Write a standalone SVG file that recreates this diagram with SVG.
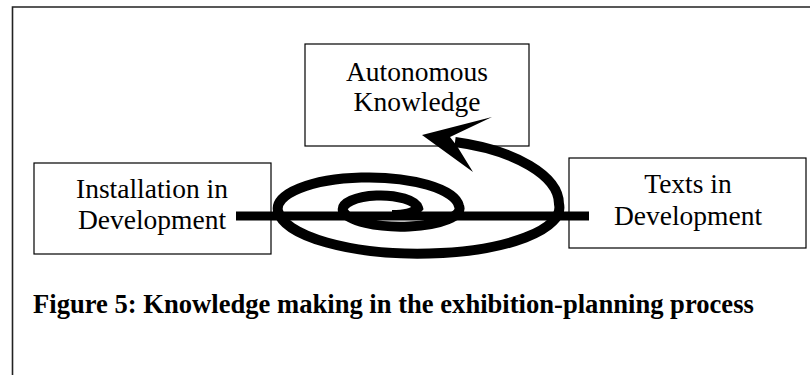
<svg xmlns="http://www.w3.org/2000/svg" width="810" height="375" viewBox="0 0 810 375">
<style>
.box{fill:#fff;stroke:#000;stroke-width:1.2}
.lbl{font-family:"Liberation Serif","Times New Roman",serif;font-size:27.5px;fill:#000;text-anchor:middle}
.cap{font-family:"Liberation Serif","Times New Roman",serif;font-size:26.6px;font-weight:bold;fill:#000}
.frame{fill:none;stroke:#222;stroke-width:1.6}
</style>
<rect width="810" height="375" fill="#fff"/>
<path class="frame" d="M12.5,375 V7 H810"/>
<g id="node-autonomous">
<rect class="box" x="305" y="44" width="224" height="102"/>
<text class="lbl" x="417" y="81">Autonomous</text>
<text class="lbl" x="417" y="111">Knowledge</text>
</g>
<g id="node-installation">
<rect class="box" x="34" y="163" width="237" height="91"/>
<text class="lbl" x="152" y="198">Installation in</text>
<text class="lbl" x="152" y="229">Development</text>
</g>
<g id="node-texts">
<rect class="box" x="569" y="158" width="237" height="90"/>
<text class="lbl" x="688" y="193">Texts in</text>
<text class="lbl" x="688" y="225">Development</text>
</g>
<g id="connectors">
<rect x="236" y="211.5" width="353" height="9" fill="#000"/>
<path d="M392,215 Q412,215 418,208 A37.5 14 0 0 0 343,211 A58 18 0 0 0 459,206 A90.5 31 0 0 0 278,211 A140.5 46 0 0 0 559,204 C559,176 515,150 455,142" fill="none" stroke="#000" stroke-width="10"/>
<polygon points="422,135 492,117 450,137 457,146 473,172" fill="#000"/>
</g>
<text class="cap" x="33" y="313">Figure 5: Knowledge making in the exhibition-planning process</text>
</svg>
